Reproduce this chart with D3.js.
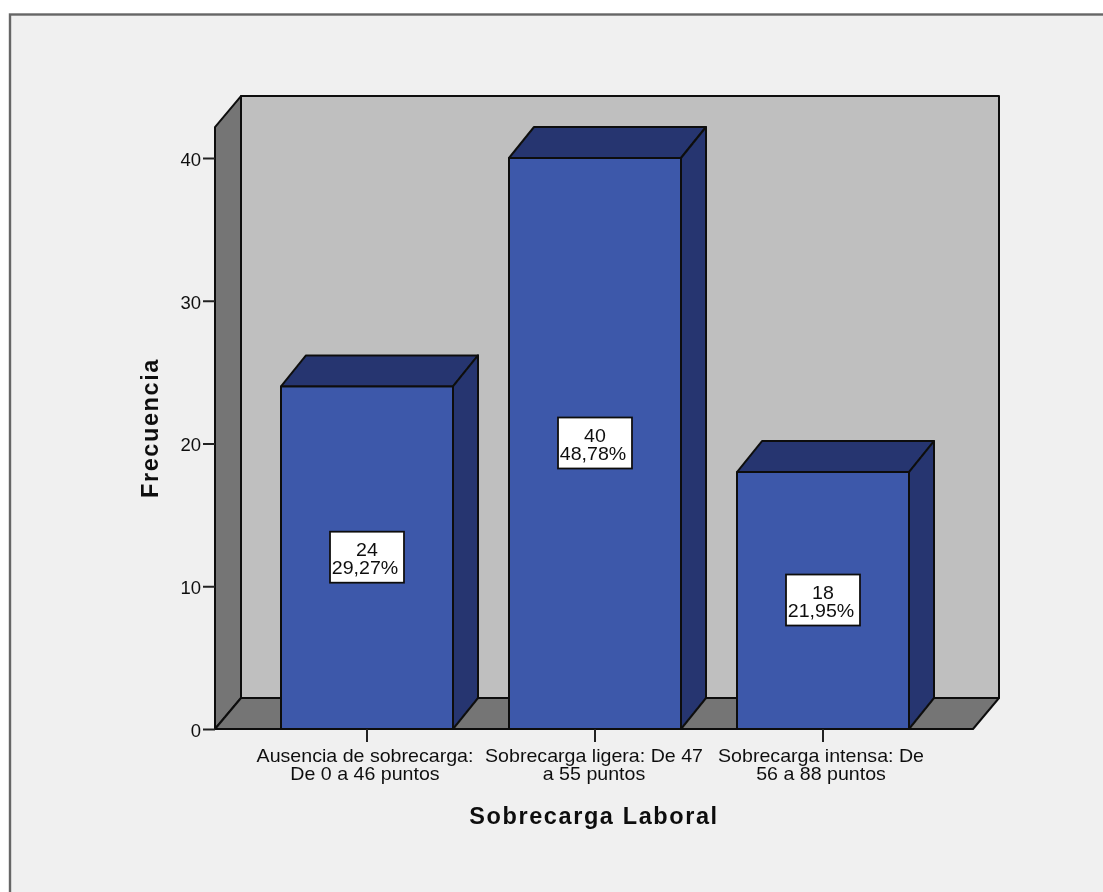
<!DOCTYPE html>
<html><head><meta charset="utf-8">
<script src="https://d3js.org/d3.v7.min.js"></script>
<style>html,body{margin:0;padding:0;background:#fff}svg{display:block;font-family:"Liberation Sans",Arial,sans-serif;}</style>
</head><body><svg id="c" width="1103" height="892"></svg>
<script>
const categories=["Ausencia de sobrecarga: De 0 a 46 puntos","Sobrecarga ligera: De 47 a 55 puntos","Sobrecarga intensa: De 56 a 88 puntos"];
const categoryLines=[["Ausencia de sobrecarga:","De 0 a 46 puntos"],["Sobrecarga ligera: De 47","a 55 puntos"],["Sobrecarga intensa: De","56 a 88 puntos"]];
const counts=[24,40,18];
const percents=["29,27%","48,78%","21,95%"];
const yTicks=[0,10,20,30,40];
const xTitle="Sobrecarga Laboral", yTitle="Frecuencia";

const W=1103,H=892,dx=26,dy=-31,barDx=25,sx=1.09,fs=18;
const svg=d3.select("#c");
const defs=svg.append("defs");
defs.append("filter").attr("id","soft").attr("x",0).attr("y",0).attr("width",1).attr("height",1)
  .append("feGaussianBlur").attr("stdDeviation",0.45);
const g=svg.append("g").attr("filter","url(#soft)");
g.append("rect").attr("width",W).attr("height",H).attr("fill","#fff");
g.append("rect").attr("x",10).attr("y",14.5).attr("width",W).attr("height",H).attr("fill","#f0f0f0").attr("stroke","#666").attr("stroke-width",2.4);

const y=d3.scaleLinear().domain([0,40]).range([729,158]);
const x=d3.scaleBand().domain(categories).range([253,937]).paddingInner(56/228).paddingOuter(28/228);
const yTopVal=42.17;
const L=215,R=973,B=y(0),T=y(yTopVal);
const ln="#111";
const poly=(pts,fill)=>g.append("polygon").attr("points",pts.map(p=>p.join(",")).join(" ")).attr("fill",fill).attr("stroke",ln).attr("stroke-width",2).attr("stroke-linejoin","round");
// walls
poly([[L+dx,T+dy],[R+dx,T+dy],[R+dx,B+dy],[L+dx,B+dy]],"#bfbfbf");
poly([[L,T],[L+dx,T+dy],[L+dx,B+dy],[L,B]],"#757575");
poly([[L,B],[L+dx,B+dy],[R+dx,B+dy],[R,B]],"#757575");
// bars
categories.forEach((c,i)=>{
  const x0=x(c),x1=x0+x.bandwidth(),t=y(counts[i]);
  poly([[x0,t],[x0+barDx,t+dy],[x1+barDx,t+dy],[x1,t]],"#25366f");
  poly([[x1,t],[x1+barDx,t+dy],[x1+barDx,B+dy],[x1,B]],"#25366f");
  poly([[x0,t],[x1,t],[x1,B],[x0,B]],"#3d58aa");
});
// axes
const ay=g.append("g").attr("transform",`translate(${L},0)`).call(d3.axisLeft(y).tickValues(yTicks).tickSize(12).tickPadding(2).tickFormat(d3.format("d")));
ay.select(".domain").remove();
ay.selectAll("line").attr("stroke","#222").attr("stroke-width",2);
ay.selectAll("text").attr("font-size",18.5).attr("font-family","Liberation Sans").attr("fill","#111").attr("dy","0.4em");
const ax=g.append("g").attr("transform",`translate(0,${B})`).call(d3.axisBottom(x).tickSize(13).tickFormat(""));
ax.select(".domain").attr("stroke",ln).attr("stroke-width",2).attr("d",`M${L},0H${R}`);
ax.selectAll("line").attr("stroke","#222").attr("stroke-width",2);
// stretched text: the reference glyphs are wider than they are tall
const wide=(px,py,s)=>g.append("text").attr("transform",`translate(${px},${py}) scale(${sx},1)`).attr("text-anchor","middle").attr("font-size",fs).attr("fill","#111").text(s);
// category text
categories.forEach((c,i)=>{
  const cx=x(c)+x.bandwidth()/2;
  categoryLines[i].forEach((s,k)=>wide(cx-(i===1?1:2),761.5+k*18,s));
});
// value labels
categories.forEach((c,i)=>{
  const cx=x(c)+x.bandwidth()/2,cy=y(counts[i]/2);
  g.append("rect").attr("x",cx-37).attr("y",cy-26).attr("width",74).attr("height",51).attr("fill","#fff").attr("stroke",ln).attr("stroke-width",1.8);
  wide(cx,cy-2,counts[i]);
  wide(cx-2,cy+16,percents[i]);
});
// titles
g.append("text").attr("x",594).attr("y",824).attr("text-anchor","middle").attr("font-size",23.5).attr("font-weight","bold").attr("letter-spacing",1.6).attr("fill","#111").text(xTitle);
g.append("text").attr("transform","translate(158,428) rotate(-90)").attr("text-anchor","middle").attr("font-size",23.5).attr("font-weight","bold").attr("letter-spacing",1.6).attr("fill","#111").text(yTitle);
</script></body></html>
